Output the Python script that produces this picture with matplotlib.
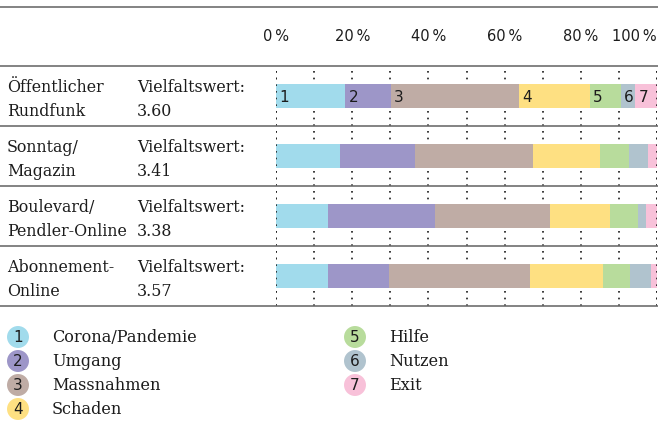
import matplotlib
matplotlib.use("Agg")
import matplotlib.pyplot as plt
from matplotlib.lines import Line2D

# ---- data ----
categories = ["Öffentlicher\nRundfunk", "Sonntag/\nMagazin", "Boulevard/\nPendler-Online", "Abonnement-\nOnline"]
scores = ["3.60", "3.41", "3.38", "3.57"]
topics = ["Corona/Pandemie", "Umgang", "Massnahmen", "Schaden", "Hilfe", "Nutzen", "Exit"]
shares = [
    [18.1, 12.0, 33.7, 18.6, 8.1, 3.7, 5.8],
    [16.8, 19.7, 31.0, 17.6, 7.6, 5.0, 2.3],
    [13.6, 28.1, 30.2, 15.7, 7.3, 2.1, 3.0],
    [13.6, 16.0, 37.0, 19.2, 7.1, 5.5, 1.6],
]
tick_values = [0, 20, 40, 60, 80, 100]
tick_labels = ["0\u2009%", "20\u2009%", "40\u2009%", "60\u2009%", "80\u2009%", "100\u2009%"]
colors = ["#a1dbec", "#9d96c8", "#bfaca5", "#fee082", "#b8dc9c", "#b0c3ce", "#f8c1d9"]

W, H = 658, 434
SERIF = "DejaVu Serif"
SANS = "DejaVu Sans"
TXT = "#1c1c1c"

fig = plt.figure(figsize=(W / 100, H / 100), dpi=100)
bg = fig.add_axes([0, 0, 1, 1])
bg.set_xlim(0, W)
bg.set_ylim(H, 0)
bg.axis("off")

# row labels
for i, (cat, sc) in enumerate(zip(categories, scores)):
    top = 66 + 60 * i
    l1, l2 = cat.split("\n")
    bg.text(7, top + 21, l1, fontfamily=SERIF, fontsize=11.4, va="center", ha="left", color=TXT)
    bg.text(7, top + 45, l2, fontfamily=SERIF, fontsize=11.4, va="center", ha="left", color=TXT)
    bg.text(137, top + 21, "Vielfaltswert:", fontfamily=SERIF, fontsize=11.4, va="center", ha="left", color=TXT)
    bg.text(137, top + 45, sc, fontfamily=SERIF, fontsize=11.4, va="center", ha="left", color=TXT)

# bar axes
ax = fig.add_axes([276 / W, 1 - 306 / H, 381 / W, 240 / H])
ax.patch.set_visible(False)
ax.set_xlim(0, 100)
ax.set_ylim(3.5, -0.5)
for s in ax.spines.values():
    s.set_visible(False)
ax.set_yticks([])
ax.xaxis.tick_top()
ax.set_xticks(tick_values)
ax.set_xticks(range(10, 100, 20), minor=True)
ax.set_xticklabels(tick_labels, fontfamily=SANS, fontsize=10.5, color=TXT)
ax.tick_params(axis="x", which="both", length=0, pad=16)
ax.get_xticklabels()[0].set_x(1.0)
ax.get_xticklabels()[-1].set_ha("right")
ax.get_xticklabels()[-1].set_x(100.5)
ax.grid(axis="x", which="both", color="#1a1a1a", lw=1.2, linestyle=(0, (1, 3)), zorder=0)
ax.set_axisbelow(True)

for r, row in enumerate(shares):
    left = 0
    for k, v in enumerate(row):
        ax.barh(r, v, left=left, height=0.385, color=colors[k], edgecolor="none", zorder=2)
        if r == 0:
            ax.text(left + 0.9, r + 0.02, str(k + 1), fontfamily=SANS, fontsize=11,
                    va="center", ha="left", color=TXT, zorder=3)
        left += v

# edge dotted lines on top of the bars
for xv in [0, 100]:
    ax.axvline(xv, color="#1a1a1a", lw=1.2, linestyle=(0, (1, 3)), zorder=4)

# horizontal separator lines (drawn on top of everything)
sep = fig.add_axes([0, 0, 1, 1], zorder=5)
sep.patch.set_visible(False)
sep.set_xlim(0, W)
sep.set_ylim(H, 0)
sep.axis("off")
for y in [7, 66, 126, 186, 246, 306]:
    sep.add_line(Line2D([0, W], [y, y], color="#6e6e6e", lw=1.2))

# legend
leg_pos = [(18, 337), (18, 361), (18, 385), (18, 409), (355, 337), (355, 361), (355, 385)]
for k, (name, (cx, cy)) in enumerate(zip(topics, leg_pos)):
    bg.scatter([cx], [cy], s=250, color=colors[k], edgecolors="none", zorder=2)
    bg.text(cx, cy + 0.5, str(k + 1), fontfamily=SANS, fontsize=11, ha="center", va="center", color=TXT, zorder=3)
    bg.text(cx + 34, cy, name, fontfamily=SERIF, fontsize=11.6, ha="left", va="center", color=TXT)

fig.savefig("out.png", dpi=100)
